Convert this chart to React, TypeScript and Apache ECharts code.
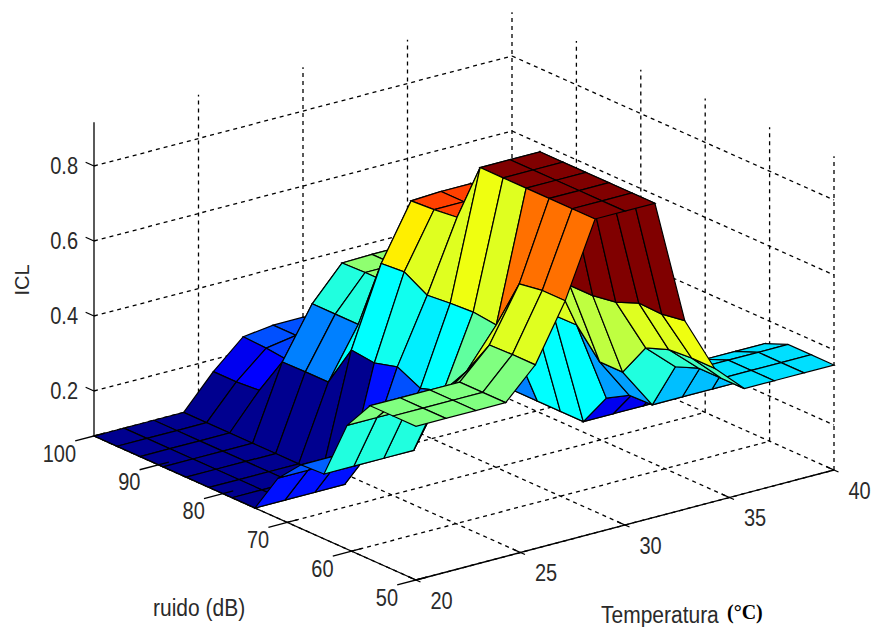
import React, { useEffect, useRef } from "react";
import * as echarts from "echarts";

// Grid of the surface: 15 temperatures and 15 noise levels
const temperatures = [20, 21.43, 22.86, 24.29, 25.71, 27.14, 28.57, 30, 31.43, 32.86, 34.29, 35.71, 37.14, 38.57, 40];
const noiseLevels = [100, 96.43, 92.86, 89.29, 85.71, 82.14, 78.57, 75, 71.43, 67.86, 64.29, 60.71, 57.14, 53.57, 50];

// ICL per temperature column, one value per noise level
const icl20 = [0.08, 0.08, 0.08, 0.08, 0.08, 0.08, 0.08, 0.08, 0.187, 0.25, 0.253, 0.41, 0.49, 0.49, 0.49];
const icl21 = icl20;
const icl23 = icl20;
const icl24 = icl20;
const icl26 = [0.168, 0.168, 0.173, 0.276, 0.277, 0.277, 0.39, 0.383, 0.4, 0.37, 0.39, 0.47, 0.568, 0.57, 0.57];
const icl27 = [0.24, 0.237, 0.23, 0.41, 0.41, 0.41, 0.6, 0.605, 0.57, 0.576, 0.58, 0.573, 0.71, 0.72, 0.72];
const icl29 = [0.25, 0.25, 0.25, 0.498, 0.5, 0.5, 0.746, 0.75, 0.757, 0.917, 0.917, 0.917, 0.917, 0.917, 0.917];
const icl30 = [0.25, 0.25, 0.25, 0.5, 0.5, 0.5, 0.75, 0.75, 0.75, 0.917, 0.917, 0.917, 0.917, 0.917, 0.917];
const icl31 = [0.25, 0.25, 0.25, 0.5, 0.5, 0.5, 0.75, 0.75, 0.75, 0.917, 0.917, 0.917, 0.917, 0.917, 0.917];
const icl33 = [0.2, 0.2, 0.2, 0.38, 0.38, 0.38, 0.54, 0.56, 0.575, 0.54, 0.54, 0.55, 0.575, 0.573, 0.583];
const icl34 = [0.12, 0.12, 0.12, 0.2, 0.24, 0.285, 0.385, 0.385, 0.386, 0.315, 0.315, 0.407, 0.43, 0.435, 0.435];
const icl36 = [0.08, 0.08, 0.08, 0.08, 0.08, 0.08, 0.08, 0.08, 0.17, 0.205, 0.207, 0.336, 0.36, 0.36, 0.36];
const icl37 = [0.08, 0.08, 0.08, 0.08, 0.08, 0.08, 0.08, 0.08, 0.17, 0.205, 0.207, 0.335, 0.36, 0.36, 0.36];
const icl39 = icl37;
const icl40 = icl37;
const icl = [icl20, icl21, icl23, icl24, icl26, icl27, icl29, icl30, icl31, icl33, icl34, icl36, icl37, icl39, icl40];

const tempTicks = [20, 25, 30, 35, 40];
const noiseTicks = [100, 90, 80, 70, 60, 50];
const iclTicks = [0.2, 0.4, 0.6, 0.8];
const iclMin = 0.08;
const iclMax = 0.917;

// Oblique projection of the data box on to the page
function project(t: number, n: number, z: number): [number, number] {
  const u = (t - 20) / 20;
  const v = (100 - n) / 50;
  return [94 + 418 * u + 322 * v, 436 - 110 * u + 144 * v - (z - iclMin) * 375];
}

function jet(c: number): string {
  const level = Math.min(63, Math.max(0, Math.floor(c * 64)));
  const x = (level + 1) / 64;
  const ramp = (d: number) => Math.max(0, Math.min(1, 1.5 - Math.abs(4 * x - d)));
  const to = (v: number) => Math.round(v * 255);
  return `rgb(${to(ramp(3))},${to(ramp(2))},${to(ramp(1))})`;
}

// [t1, n1, z1, t2, n2, z2]
const gridSegments: number[][] = [];
const axisSegments: number[][] = [];
tempTicks.forEach((t) => {
  gridSegments.push([t, 100, iclMin, t, 50, iclMin]);
  if (t > 20) gridSegments.push([t, 100, iclMin, t, 100, iclMax]);
  axisSegments.push([t, 50 + 1.2, iclMin, t, 50 - 0.7, iclMin]);
});
noiseTicks.forEach((n) => {
  gridSegments.push([20, n, iclMin, 40, n, iclMin]);
  if (n < 100) gridSegments.push([40, n, iclMin, 40, n, iclMax]);
  axisSegments.push([20 + 0.5, n, iclMin, 20 - 0.9, n, iclMin]);
});
iclTicks.forEach((z) => {
  gridSegments.push([20, 100, z, 40, 100, z]);
  gridSegments.push([40, 100, z, 40, 50, z]);
  axisSegments.push([20, 100, z, 20, 101.3, z]);
});
axisSegments.push([20, 100, iclMin, 20, 100, iclMax]);
axisSegments.push([20, 100, iclMin, 20, 50, iclMin]);
axisSegments.push([20, 50, iclMin, 40, 50, iclMin]);

const cells: number[][] = [];
for (let i = temperatures.length - 2; i >= 0; i--) {
  for (let j = 0; j < noiseLevels.length - 1; j++) cells.push([i, j]);
}

const labelFont = '20px "Liberation Sans", Arial, sans-serif';
const labelColor = "#2a2a2a";
const tallText = 1.15;

function segmentSeries(data: number[][], z: number, dash: number[] | null, width: number) {
  return {
    type: "custom",
    coordinateSystem: "cartesian2d",
    z,
    silent: true,
    clip: false,
    data,
    encode: { x: 0, y: 1 },
    renderItem: (_p: any, api: any) => {
      const a = api.coord(project(api.value(0), api.value(1), api.value(2)));
      const b = api.coord(project(api.value(3), api.value(4), api.value(5)));
      return {
        type: "line",
        shape: { x1: a[0], y1: a[1], x2: b[0], y2: b[1] },
        style: { stroke: "#000", lineWidth: width, lineDash: dash || undefined, fill: "none" },
      };
    },
  };
}

function labelSeries(data: number[][], z: number, texts: string[], dx: number, dy: number, align: string) {
  return {
    type: "custom",
    coordinateSystem: "cartesian2d",
    z,
    silent: true,
    clip: false,
    data,
    encode: { x: 0, y: 1 },
    renderItem: (p: any, api: any) => {
      const a = api.coord(project(api.value(0), api.value(1), api.value(2)));
      return {
        type: "text",
        x: a[0] + dx,
        y: a[1] + dy,
        scaleY: tallText,
        style: { text: texts[p.dataIndex], font: labelFont, fill: labelColor, align, verticalAlign: "middle" },
      };
    },
  };
}

export default function App() {
  const ref = useRef<HTMLDivElement>(null);
  useEffect(() => {
    const chart = echarts.init(ref.current!, null, { renderer: "svg" });
    chart.setOption({
      animation: false,
      backgroundColor: "#fff",
      grid: { left: 0, right: 0, top: 0, bottom: 0 },
      xAxis: { type: "value", min: 0, max: 871, show: false },
      yAxis: { type: "value", min: 0, max: 627, inverse: true, show: false },
      series: [
        segmentSeries(gridSegments, 1, [4, 4], 1.3),
        {
          type: "custom",
          coordinateSystem: "cartesian2d",
          z: 2,
          silent: true,
          clip: false,
          data: cells,
          encode: { x: 0, y: 1 },
          renderItem: (_p: any, api: any) => {
            const i = api.value(0);
            const j = api.value(1);
            const corner = (a: number, b: number) =>
              api.coord(project(temperatures[a], noiseLevels[b], icl[a][b]));
            return {
              type: "polygon",
              shape: { points: [corner(i, j), corner(i + 1, j), corner(i + 1, j + 1), corner(i, j + 1)] },
              style: {
                fill: jet((icl[i][j + 1] - iclMin) / (iclMax - iclMin)),
                stroke: "#000",
                lineWidth: 1.2,
              },
            };
          },
        },
        segmentSeries(axisSegments, 3, null, 1.3),
        labelSeries(iclTicks.map((z) => [20, 100, z]), 4, iclTicks.map((z) => z.toFixed(1)), -16, 0, "right"),
        labelSeries(noiseTicks.map((n) => [20, n, iclMin]), 4, noiseTicks.map(String), -18, 17.5, "right"),
        labelSeries(tempTicks.map((t) => [t, 50, iclMin]), 4, tempTicks.map(String), 25.5, 20.5, "center"),
      ],
      graphic: [
        { type: "text", x: 22, y: 280, rotation: Math.PI / 2, scaleY: 1, style: { text: "ICL", font: labelFont, fill: labelColor, align: "center", verticalAlign: "middle" } },
        { type: "text", x: 153, y: 608, scaleY: tallText, style: { text: "ruido (dB)", font: '21px "Liberation Sans", Arial, sans-serif', fill: labelColor, verticalAlign: "middle" } },
        { type: "text", x: 601, y: 615, scaleY: tallText, style: { text: "Temperatura", font: '21px "Liberation Sans", Arial, sans-serif', fill: labelColor, verticalAlign: "middle" } },
        { type: "text", x: 727, y: 612, style: { text: "(°C)", font: 'bold 20px "Liberation Serif", serif', fill: "#000", verticalAlign: "middle" } },
      ],
    });
    return () => chart.dispose();
  }, []);
  return <div ref={ref} style={{ position: "fixed", left: 0, top: 0, width: 871, height: 627 }} />;
}
